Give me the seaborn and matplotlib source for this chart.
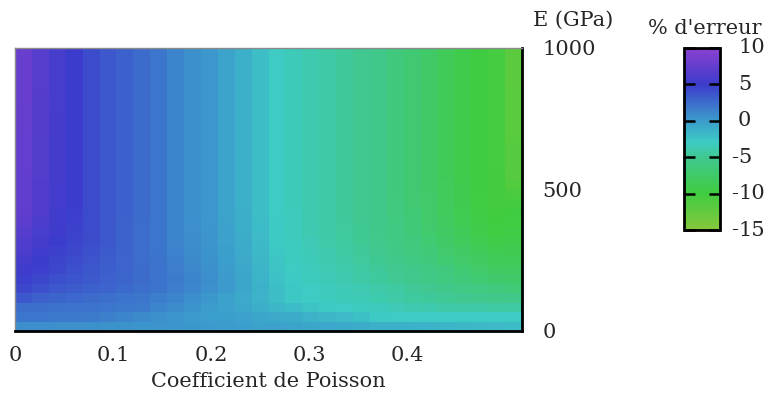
import numpy as np
import pandas as pd
import matplotlib
matplotlib.use("Agg")
import matplotlib.pyplot as plt
from matplotlib.colors import LinearSegmentedColormap
import seaborn as sns

# Poisson's ratio (left edge of each column) and Young's modulus rows (GPa, top to bottom)
poisson = np.linspace(0.0, 0.5, 30)
young = np.linspace(1000, 1000 / 30, 30)

# Relative error (%) for each (E, nu) cell, rows from E = 1000 GPa down to E = 0
erreur = [
    [7.8, 6.6, 5.7, 5.0, 4.2, 3.5, 3.1, 2.5, 1.9, 1.3, 0.6, 0.2, -0.5, -1.3, -2.2, -3.0, -3.4, -3.8, -4.2, -4.6, -5.0, -5.4, -6.2, -6.8, -7.5, -8.4, -9.2, -10.0, -10.4, -11.9],
    [7.8, 6.6, 5.7, 5.0, 4.2, 3.5, 3.1, 2.5, 1.9, 1.3, 0.6, 0.2, -0.5, -1.3, -2.2, -3.0, -3.4, -3.8, -4.2, -4.6, -5.0, -5.4, -6.2, -6.8, -7.5, -8.4, -9.2, -10.0, -10.4, -11.9],
    [7.8, 6.6, 5.7, 5.0, 4.2, 3.5, 3.1, 2.5, 1.9, 1.3, 0.6, 0.2, -0.5, -1.3, -2.2, -3.0, -3.4, -3.8, -4.2, -4.6, -5.0, -5.4, -6.2, -6.8, -7.5, -8.4, -9.2, -10.0, -10.4, -11.9],
    [7.7, 6.6, 5.7, 5.0, 4.2, 3.5, 3.1, 2.5, 1.9, 1.3, 0.6, 0.2, -0.5, -1.3, -2.2, -3.0, -3.4, -3.8, -4.2, -4.6, -5.0, -5.4, -6.2, -6.8, -7.5, -8.4, -9.2, -10.0, -10.4, -11.9],
    [7.7, 6.6, 5.7, 5.0, 4.2, 3.5, 3.1, 2.5, 1.9, 1.3, 0.6, 0.2, -0.5, -1.3, -2.2, -3.0, -3.4, -3.8, -4.2, -4.6, -5.0, -5.4, -6.2, -6.8, -7.5, -8.4, -9.2, -10.0, -10.4, -11.8],
    [7.7, 6.5, 5.7, 5.0, 4.2, 3.5, 3.1, 2.5, 1.9, 1.3, 0.6, 0.2, -0.5, -1.3, -2.2, -3.0, -3.4, -3.8, -4.2, -4.6, -5.0, -5.4, -6.2, -6.8, -7.5, -8.4, -9.2, -10.0, -10.4, -11.8],
    [7.6, 6.5, 5.7, 5.0, 4.2, 3.5, 3.1, 2.5, 1.9, 1.3, 0.6, 0.2, -0.5, -1.3, -2.2, -3.0, -3.4, -3.8, -4.2, -4.6, -5.0, -5.4, -6.2, -6.8, -7.5, -8.4, -9.2, -10.0, -10.4, -11.8],
    [7.6, 6.5, 5.6, 5.0, 4.2, 3.5, 3.1, 2.5, 1.9, 1.3, 0.6, 0.2, -0.5, -1.3, -2.2, -3.0, -3.4, -3.8, -4.2, -4.6, -5.0, -5.4, -6.2, -6.8, -7.5, -8.4, -9.2, -10.0, -10.4, -11.7],
    [7.6, 6.5, 5.6, 5.0, 4.2, 3.5, 3.1, 2.5, 1.9, 1.3, 0.6, 0.2, -0.5, -1.3, -2.2, -3.0, -3.4, -3.8, -4.2, -4.6, -5.0, -5.4, -6.2, -6.8, -7.5, -8.4, -9.2, -10.0, -10.4, -11.7],
    [7.5, 6.4, 5.6, 5.0, 4.2, 3.5, 3.1, 2.5, 1.9, 1.3, 0.6, 0.2, -0.5, -1.3, -2.2, -3.0, -3.4, -3.8, -4.2, -4.6, -5.0, -5.4, -6.2, -6.8, -7.5, -8.4, -9.2, -10.0, -10.4, -11.7],
    [7.5, 6.4, 5.6, 5.0, 4.2, 3.5, 3.1, 2.5, 1.9, 1.3, 0.6, 0.2, -0.5, -1.3, -2.2, -3.0, -3.4, -3.8, -4.2, -4.6, -5.0, -5.4, -6.2, -6.8, -7.5, -8.4, -9.2, -10.0, -10.4, -11.6],
    [7.5, 6.4, 5.6, 5.0, 4.2, 3.5, 3.1, 2.5, 1.9, 1.3, 0.6, 0.2, -0.5, -1.3, -2.2, -3.0, -3.4, -3.8, -4.2, -4.6, -5.0, -5.4, -6.2, -6.8, -7.5, -8.4, -9.2, -10.0, -10.4, -11.6],
    [7.5, 6.4, 5.6, 5.0, 4.2, 3.5, 3.1, 2.5, 1.9, 1.3, 0.6, 0.2, -0.5, -1.3, -2.2, -3.0, -3.4, -3.8, -4.2, -4.6, -5.0, -5.4, -6.2, -6.8, -7.5, -8.4, -9.2, -10.0, -10.4, -11.5],
    [7.4, 6.4, 5.6, 5.0, 4.2, 3.5, 3.1, 2.5, 1.9, 1.3, 0.6, 0.2, -0.5, -1.3, -2.2, -3.0, -3.4, -3.8, -4.2, -4.6, -5.0, -5.4, -6.2, -6.8, -7.5, -8.4, -9.2, -10.0, -10.3, -11.5],
    [7.4, 6.3, 5.5, 5.0, 4.2, 3.5, 3.1, 2.5, 1.9, 1.3, 0.6, 0.2, -0.5, -1.3, -2.2, -3.0, -3.4, -3.8, -4.2, -4.6, -5.0, -5.4, -6.2, -6.8, -7.5, -8.3, -9.1, -9.9, -10.3, -11.3],
    [7.3, 6.3, 5.5, 5.0, 4.2, 3.5, 3.1, 2.5, 1.9, 1.3, 0.6, 0.2, -0.5, -1.3, -2.2, -3.0, -3.4, -3.8, -4.2, -4.6, -5.0, -5.4, -6.2, -6.8, -7.4, -8.3, -9.1, -9.9, -10.2, -10.8],
    [7.3, 6.3, 5.5, 5.0, 4.2, 3.5, 3.1, 2.5, 1.9, 1.3, 0.6, 0.2, -0.5, -1.3, -2.2, -3.0, -3.4, -3.8, -4.2, -4.6, -5.0, -5.4, -6.1, -6.8, -7.4, -8.2, -9.0, -9.8, -10.2, -10.3],
    [7.2, 6.2, 5.4, 4.9, 4.2, 3.5, 3.1, 2.5, 1.9, 1.3, 0.6, 0.2, -0.5, -1.2, -2.2, -3.0, -3.3, -3.8, -4.2, -4.6, -5.0, -5.4, -6.1, -6.7, -7.3, -8.1, -8.9, -9.7, -10.1, -10.0],
    [6.9, 6.0, 5.3, 4.8, 4.2, 3.5, 3.0, 2.4, 1.9, 1.3, 0.7, 0.2, -0.4, -1.2, -2.1, -2.9, -3.3, -3.7, -4.1, -4.5, -4.9, -5.3, -6.0, -6.6, -7.2, -8.0, -8.7, -9.5, -10.0, -9.8],
    [6.6, 5.8, 5.2, 4.7, 4.2, 3.5, 3.0, 2.4, 1.9, 1.3, 0.7, 0.3, -0.4, -1.1, -2.0, -2.9, -3.3, -3.7, -4.1, -4.5, -4.9, -5.3, -5.9, -6.5, -7.1, -7.8, -8.5, -9.3, -9.8, -9.6],
    [6.3, 5.6, 5.0, 4.6, 4.1, 3.5, 3.0, 2.4, 1.9, 1.3, 0.8, 0.3, -0.3, -1.0, -1.9, -2.8, -3.2, -3.6, -4.0, -4.4, -4.8, -5.2, -5.8, -6.3, -6.9, -7.5, -8.2, -8.9, -9.4, -9.3],
    [6.0, 5.3, 4.8, 4.4, 4.0, 3.4, 3.0, 2.4, 1.9, 1.4, 0.9, 0.4, -0.2, -0.9, -1.8, -2.7, -3.1, -3.5, -3.9, -4.3, -4.6, -5.1, -5.6, -6.1, -6.6, -7.2, -7.8, -8.4, -8.9, -9.0],
    [5.6, 5.0, 4.6, 4.2, 3.8, 3.3, 2.9, 2.4, 2.0, 1.5, 1.0, 0.5, -0.1, -0.8, -1.7, -2.6, -3.1, -3.4, -3.8, -4.1, -4.5, -4.9, -5.3, -5.8, -6.3, -6.9, -7.4, -8.0, -8.5, -8.6],
    [5.2, 4.8, 4.4, 4.0, 3.6, 3.2, 2.9, 2.5, 2.1, 1.6, 1.1, 0.6, 0.0, -0.7, -1.6, -2.5, -3.0, -3.3, -3.6, -3.9, -4.3, -4.6, -5.0, -5.4, -5.8, -6.3, -6.9, -7.4, -7.9, -8.0],
    [4.8, 4.4, 4.0, 3.7, 3.4, 3.1, 2.8, 2.5, 2.1, 1.7, 1.2, 0.7, 0.1, -0.6, -1.5, -2.4, -2.9, -3.2, -3.5, -3.8, -4.1, -4.4, -4.8, -5.2, -5.6, -6.0, -6.5, -6.9, -7.2, -7.4],
    [4.4, 4.0, 3.5, 3.3, 3.1, 2.9, 2.6, 2.3, 2.0, 1.6, 1.1, 0.6, 0.1, -0.6, -1.4, -2.2, -2.7, -3.0, -3.3, -3.5, -3.7, -4.0, -4.3, -4.7, -5.0, -5.3, -5.7, -6.0, -6.3, -6.6],
    [3.5, 3.1, 2.8, 2.7, 2.5, 2.3, 2.1, 1.9, 1.6, 1.2, 0.7, 0.2, -0.3, -0.8, -1.5, -2.2, -2.7, -3.0, -3.2, -3.4, -3.6, -3.9, -4.1, -4.4, -4.6, -4.8, -5.0, -5.2, -5.3, -5.5],
    [2.3, 2.3, 2.2, 2.1, 2.0, 1.9, 1.8, 1.7, 1.3, 0.9, 0.4, 0.0, -0.3, -0.7, -1.2, -1.7, -2.1, -2.5, -2.8, -3.0, -3.1, -3.3, -3.5, -3.7, -3.9, -4.0, -4.1, -4.2, -4.3, -4.3],
    [1.9, 1.9, 1.8, 1.8, 1.7, 1.5, 1.3, 1.0, 0.6, 0.3, 0.1, -0.1, -0.2, -0.4, -0.6, -0.8, -1.0, -1.4, -1.7, -1.9, -2.3, -2.8, -3.0, -3.0, -3.0, -3.0, -3.0, -3.0, -3.0, -3.0],
    [0.7, 0.7, 0.6, 0.6, 0.6, 0.5, 0.5, 0.4, 0.4, 0.3, 0.2, 0.1, 0.0, -0.1, -0.3, -0.4, -0.5, -0.6, -0.7, -0.8, -1.1, -1.3, -1.3, -1.4, -1.5, -1.6, -1.7, -1.8, -1.9, -2.0],
]

x_ticks = [0.0, 0.1, 0.2, 0.3, 0.4]
x_tick_labels = ["0", "0.1", "0.2", "0.3", "0.4"]
y_ticks = [1000, 500, 0]
y_tick_labels = ["1000", "500", "0"]
cbar_ticks = [10, 5, 0, -5, -10, -15]

# custom purple -> blue -> cyan -> green -> lime colour scale
stops = [(-15, "#86c83c"), (-10, "#40cc40"), (-5, "#40c890"), (-3, "#3dcbc4"),
         (0, "#3c9ccc"), (5, "#3c3ccc"), (10, "#8a40d0")]
vmin, vmax = -15, 10
cmap = LinearSegmentedColormap.from_list(
    "erreur", [((v - vmin) / (vmax - vmin), c) for v, c in stops])

sns.set_style("white")
plt.rcParams["font.family"] = ["DejaVu Serif"]
FS = 15

W, H = 768, 396
fig = plt.figure(figsize=(W / 100, H / 100), dpi=100)


def box(x0, y0, x1, y1):
    return [x0 / W, 1 - y1 / H, (x1 - x0) / W, (y1 - y0) / H]


ax = fig.add_axes(box(15, 47.5, 522, 331))
cax = fig.add_axes(box(684, 48, 720, 230))

df = pd.DataFrame(erreur, index=young, columns=poisson)
sns.heatmap(df, ax=ax, cmap=cmap, vmin=vmin, vmax=vmax, cbar_ax=cax,
            cbar_kws={"ticks": cbar_ticks}, xticklabels=False, yticklabels=False,
            linewidths=0)

# numeric positions inside the heatmap's cell grid
dnu = poisson[1] - poisson[0]
dE = 1000 / 30
ax.set_xticks([t / dnu for t in x_ticks])
ax.set_xticklabels(x_tick_labels, fontsize=FS)
ax.set_yticks([(1000 - e) / dE for e in y_ticks])
ax.set_yticklabels(y_tick_labels, fontsize=FS, rotation=0)
ax.yaxis.tick_right()
ax.tick_params(axis="x", length=0, pad=10.5)
ax.tick_params(axis="y", length=0, pad=14.5)
for lbl in ax.get_yticklabels():
    lbl.set_horizontalalignment("left")

for side, spine in ax.spines.items():
    spine.set_visible(True)
    if side in ("top", "left"):
        spine.set_color("#8a8a8a")
        spine.set_linewidth(1.0)
    else:
        spine.set_color("black")
        spine.set_linewidth(2.0)

ax.set_xlabel("Coefficient de Poisson", fontsize=FS)
ax.xaxis.set_label_coords(0.5, -0.143)
ax.xaxis.label.set_verticalalignment("top")

fig.text(533 / W, 1 - 20 / H, "E (GPa)", fontsize=FS, ha="left", va="center")
fig.text(705 / W, 1 - 28 / H, "% d'erreur", fontsize=FS, ha="center", va="center")

# colour bar: ticks drawn inward on both edges, hanging minus signs on labels
cbar = ax.collections[0].colorbar
cbar.outline.set_edgecolor("black")
cbar.outline.set_linewidth(2.0)
cax.set_axisbelow(False)
cax.tick_params(axis="y", left=True, right=True, direction="in", length=8,
                width=1.8, color="black", labelleft=False, labelright=False)
tr = cax.get_yaxis_transform()
xd = (738 - 684) / 36
for v in cbar_ticks:
    cax.text(xd, v, str(abs(v)), transform=tr, fontsize=FS, ha="left", va="center")
    if v < 0:
        cax.text(xd, v, "-", transform=tr, fontsize=FS, ha="right", va="center")

fig.savefig("out.png", dpi=100)
